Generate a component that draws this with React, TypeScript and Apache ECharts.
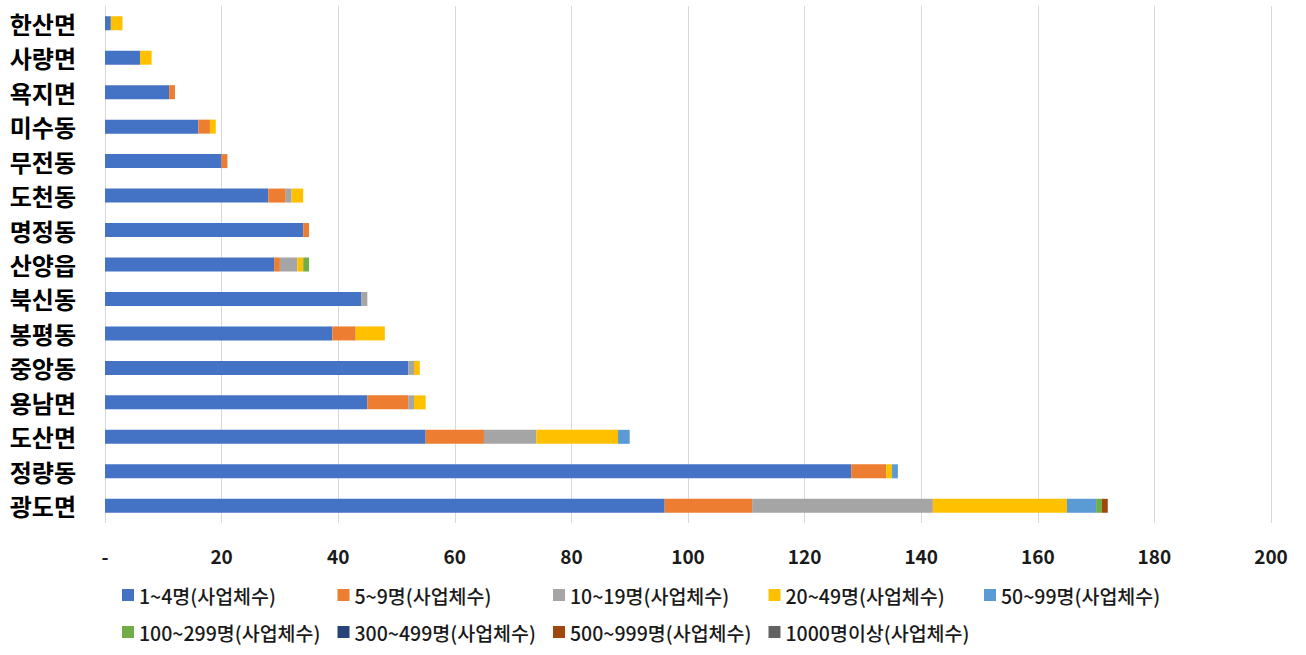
import React, { useEffect, useRef } from "react";
import * as echarts from "echarts";

const categories = ["한산면", "사량면", "욕지면", "미수동", "무전동", "도천동", "명정동", "산양읍", "북신동", "봉평동", "중앙동", "용남면", "도산면", "정량동", "광도면"];

const seriesNames = [
  "1~4명(사업체수)",
  "5~9명(사업체수)",
  "10~19명(사업체수)",
  "20~49명(사업체수)",
  "50~99명(사업체수)",
  "100~299명(사업체수)",
  "300~499명(사업체수)",
  "500~999명(사업체수)",
  "1000명이상(사업체수)",
];

const colors = ["#4472C4", "#ED7D31", "#A5A5A5", "#FFC000", "#5B9BD5", "#70AD47", "#264478", "#9E480E", "#636363"];

const s1to4 = [1, 6, 11, 16, 20, 28, 34, 29, 44, 39, 52, 45, 55, 128, 96];
const s5to9 = [0, 0, 1, 2, 1, 3, 1, 1, 0, 4, 0, 7, 10, 6, 15];
const s10to19 = [0, 0, 0, 0, 0, 1, 0, 3, 1, 0, 1, 1, 9, 0, 31];
const s20to49 = [2, 2, 0, 1, 0, 2, 0, 1, 0, 5, 1, 2, 14, 1, 23];
const s50to99 = [0, 0, 0, 0, 0, 0, 0, 0, 0, 0, 0, 0, 2, 1, 5];
const s100to299 = [0, 0, 0, 0, 0, 0, 0, 1, 0, 0, 0, 0, 0, 0, 1];
const s300to499 = [0, 0, 0, 0, 0, 0, 0, 0, 0, 0, 0, 0, 0, 0, 0];
const s500to999 = [0, 0, 0, 0, 0, 0, 0, 0, 0, 0, 0, 0, 0, 0, 1];
const s1000plus = [0, 0, 0, 0, 0, 0, 0, 0, 0, 0, 0, 0, 0, 0, 0];

const seriesValues = [s1to4, s5to9, s10to19, s20to49, s50to99, s100to299, s300to499, s500to999, s1000plus];

const xTicks = ["-", "20", "40", "60", "80", "100", "120", "140", "160", "180", "200"];

const FONT = "'Noto Sans CJK KR', 'Noto Sans', sans-serif";

export default function App() {
  const ref = useRef<HTMLDivElement>(null);
  useEffect(() => {
    document.body.style.margin = "0";
    if (!ref.current) return;
    const chart = echarts.init(ref.current, null, { renderer: "svg" });
    chart.setOption({
      animation: false,
      color: colors,
      textStyle: { fontFamily: FONT },
      grid: { left: 105, right: 35, top: 6, bottom: 132, containLabel: false },
      xAxis: {
        type: "value",
        min: 0,
        max: 200,
        interval: 20,
        axisLine: { show: false },
        axisTick: { show: false },
        splitLine: { show: true, lineStyle: { color: "#D9D9D9", width: 1 } },
        axisLabel: {
          margin: 23,
          fontSize: 19,
          fontWeight: "bold",
          color: "#1a1a1a",
          fontFamily: FONT,
          formatter: (v: number) => xTicks[Math.round(v / 20)] ?? String(v),
        },
      },
      yAxis: {
        type: "category",
        inverse: true,
        data: categories,
        axisLine: { show: false },
        axisTick: { show: false },
        axisLabel: {
          margin: 29,
          fontSize: 24,
          fontWeight: "bold",
          color: "#000000",
          fontFamily: FONT,
        },
      },
      legend: {
        left: 117,
        top: 580,
        width: 1130,
        itemWidth: 12,
        itemHeight: 12,
        itemGap: 17,
        icon: "rect",
        data: seriesNames,
        textStyle: {
          fontSize: 19.5,
          color: "#1a1a1a",
          fontFamily: FONT,
          fontWeight: 500,
          width: 181.5,
          lineHeight: 20,
          overflow: "none",
        },
      },
      series: seriesNames.map((name, i) => ({
        name,
        type: "bar",
        stack: "total",
        barWidth: 14,
        data: seriesValues[i],
        itemStyle: { color: colors[i] },
      })),
    });
    return () => chart.dispose();
  }, []);
  return <div ref={ref} style={{ width: 1306, height: 655 }} />;
}
